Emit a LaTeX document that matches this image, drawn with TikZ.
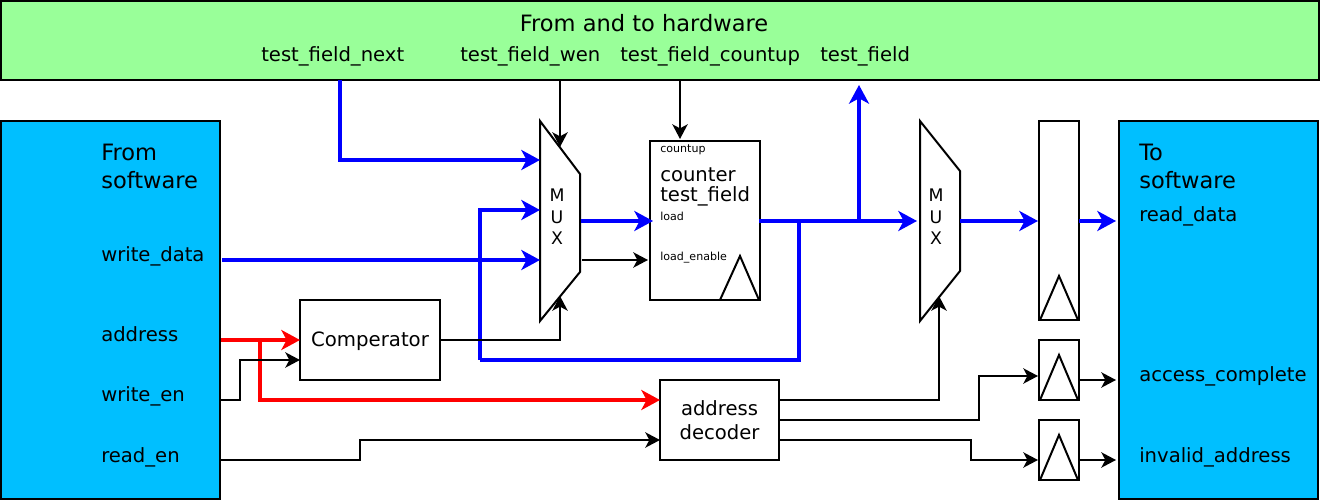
\documentclass[tikz,border=0pt]{standalone}
\usepackage{fontspec}
\setmainfont{DejaVu Sans}
\usetikzlibrary{arrows.meta}
\definecolor{hwgreen}{HTML}{99FF99}
\definecolor{swblue}{HTML}{00BFFF}
\begin{document}
\begin{tikzpicture}[
            x=0.75pt, y=-0.75pt,
            panel/.style={
                draw, line width=1.5pt, anchor=north west, inner sep=0pt, outer sep=0pt
            },
            blockbox/.style={
                draw, fill=white, line width=1.5pt, anchor=north west, inner sep=0pt, outer sep=0pt
            },
            textlabel/.style={
                anchor=base west, inner sep=0pt, font=\fontsize{14.7}{18}\selectfont
            },
            biglabel/.style={
                textlabel, font=\fontsize{16.9}{20}\selectfont
            },
            smalltext/.style={
                anchor=base west, inner sep=0pt, font=\fontsize{8.3}{10}\selectfont
            },
            muxshape/.style={
                draw, fill=white, line width=1.5pt, line join=miter
            },
            thinline/.style={
                -{Stealth[length=11pt, width=11.5pt, inset=3pt]}, line width=1.5pt
            },
            plainline/.style={
                line width=1.5pt
            },
            blueline/.style={
                -{Stealth[length=14pt, width=15pt, inset=4pt]}, blue, line width=3pt
            },
            redline/.style={
                -{Stealth[length=14pt, width=15pt, inset=4pt]}, red, line width=3pt
            }
        ]
        \useasboundingbox (0, 0) rectangle (1322, 502);

        % boxes
        \node[panel, fill=hwgreen, minimum width=1318*0.75pt, minimum height=79*0.75pt] (hw) at (1, 1) {};
        \node[panel, fill=swblue, minimum width=219*0.75pt, minimum height=378*0.75pt] (from) at (1, 121) {};
        \node[panel, fill=swblue, minimum width=199*0.75pt, minimum height=378*0.75pt] (to) at (1119, 121) {};
        \node[blockbox, minimum width=110*0.75pt, minimum height=159*0.75pt] (counter) at (650, 141) {};
        \node[blockbox, minimum width=140*0.75pt, minimum height=80*0.75pt, text depth=1pt, font=\fontsize{14.8}{18}\selectfont] (comp) at (300, 300) {Comperator};
        \node[blockbox, minimum width=119*0.75pt, minimum height=80*0.75pt, font=\fontsize{14.7}{18}\selectfont, align=center] (dec) at (660, 380) {address\\decoder};
        \node[blockbox, minimum width=40*0.75pt, minimum height=199*0.75pt] (regdata) at (1039, 121) {};
        \node[blockbox, minimum width=40*0.75pt, minimum height=60*0.75pt] (regack) at (1039, 340) {};
        \node[blockbox, minimum width=40*0.75pt, minimum height=60*0.75pt] (reginv) at (1039, 420) {};

        % clock triangles
        \draw[plainline] (720, 300) -- (740, 256) -- (759, 300);
        \draw[plainline] (1040, 320) -- (1059, 276) -- (1078, 320);
        \draw[plainline] (1040, 400) -- (1059, 355) -- (1078, 400);
        \draw[plainline] (1040, 480) -- (1059, 435) -- (1078, 480);

        % muxes
        \draw[muxshape] (540, 121) -- (580, 174) -- (580, 272) -- (540, 321) -- cycle;
        \draw[muxshape] (920, 121) -- (960, 171) -- (960, 271) -- (920, 321) -- cycle;
        \node[textlabel, anchor=center, align=center, font=\fontsize{13}{16}\selectfont] (muxa) at (557, 217) {M\\U\\X};
        \node[textlabel, anchor=center, align=center, font=\fontsize{13}{16}\selectfont] (muxb) at (936, 217) {M\\U\\X};

        % texts
        \node[biglabel, anchor=center] (hwtitle) at (644, 23) {From and to hardware};
        \node[textlabel] (hwnext) at (261, 62) {test\_field\_next};
        \node[textlabel] (hwwen) at (460, 62) {test\_field\_wen};
        \node[textlabel] (hwcnt) at (620, 62) {test\_field\_countup};
        \node[textlabel] (hwval) at (820, 62) {test\_field};
        \node[biglabel] (fromtextA) at (101, 161) {From};
        \node[biglabel] (fromtextB) at (101, 189) {software};
        \node[textlabel] (wdata) at (101, 262) {write\_data};
        \node[textlabel] (addr) at (101, 342) {address};
        \node[textlabel] (wen) at (101, 402) {write\_en};
        \node[textlabel] (ren) at (101, 462) {read\_en};
        \node[biglabel] (totextA) at (1139, 161) {To};
        \node[biglabel] (totextB) at (1139, 189) {software};
        \node[textlabel] (rdata) at (1139, 222) {read\_data};
        \node[textlabel] (ack) at (1139, 382) {access\_complete};
        \node[textlabel] (inv) at (1139, 462) {invalid\_address};
        \node[smalltext] (cup) at (660, 153) {countup};
        \node[textlabel] (cntA) at (660, 182) {counter};
        \node[textlabel] (cntB) at (660, 202) {test\_field};
        \node[smalltext] (cload) at (660, 221) {load};
        \node[smalltext] (cen) at (660, 261) {load\_enable};

        % ports
        \coordinate (hwA) at (340, 80);
        \coordinate (muxaA) at (540, 160);
        \coordinate (muxaB) at (540, 210);
        \coordinate (muxaC) at (540, 260);
        \coordinate (muxaO) at (581, 221);
        \coordinate (muxaE) at (582, 260);
        \coordinate (muxaT) at (560, 147);
        \coordinate (muxaS) at (560, 296);
        \coordinate (hwB) at (560, 81);
        \coordinate (hwC) at (680, 81);
        \coordinate (cntT) at (680, 139);
        \coordinate (cntL) at (653, 221);
        \coordinate (cntE) at (648, 260);
        \coordinate (cntO) at (759, 221);
        \coordinate (tapA) at (859, 221);
        \coordinate (tapB) at (799, 221);
        \coordinate (hwD) at (859, 85);
        \coordinate (muxbI) at (917, 221);
        \coordinate (muxbO) at (960, 221);
        \coordinate (muxbS) at (939, 296);
        \coordinate (regI) at (1038, 221);
        \coordinate (regO) at (1079, 221);
        \coordinate (toI) at (1116, 221);
        \coordinate (fromD) at (222, 260);
        \coordinate (fromA) at (221, 340);
        \coordinate (fromW) at (220, 400);
        \coordinate (fromR) at (220, 460);
        \coordinate (tapR) at (260, 340);
        \coordinate (compA) at (300, 340);
        \coordinate (compW) at (300, 360);
        \coordinate (decA) at (660, 400);
        \coordinate (decR) at (660, 440);
        \coordinate (decX) at (779, 400);
        \coordinate (decY) at (779, 420);
        \coordinate (decZ) at (779, 440);
        \coordinate (ackI) at (1038, 376);
        \coordinate (invI) at (1038, 460);
        \coordinate (ackO) at (1079, 380);
        \coordinate (invO) at (1079, 460);
        \coordinate (toAck) at (1116, 380);
        \coordinate (toInv) at (1116, 460);
        \coordinate (busS) at (480, 360);

        % buses
        \draw[blueline] (hwA) |- (muxaA);
        \draw[blueline] (fromD) -- (muxaC);
        \draw[blueline] (busS) |- (muxaB);
        \draw[blue, line width=3pt] (busS) -| (tapB);
        \draw[blueline] (muxaO) -- (cntL);
        \draw[blueline] (cntO) -- (muxbI);
        \draw[blueline] (tapA) -- (hwD);
        \draw[blueline] (muxbO) -- (regI);
        \draw[blueline] (regO) -- (toI);
        \draw[redline] (fromA) -- (compA);
        \draw[redline] (tapR) |- (decA);

        % control lines
        \draw[thinline] (hwB) -- (muxaT);
        \draw[thinline] (hwC) -- (cntT);
        \draw[thinline] (muxaE) -- (cntE);
        \draw[thinline] (comp) -| (muxaS);
        \draw[thinline] (fromW) -| (240, 360) -- (compW);
        \draw[thinline] (fromR) -| (360, 440) -- (decR);
        \draw[thinline] (decX) -| (muxbS);
        \draw[thinline] (decY) -| (979, 376) -- (ackI);
        \draw[thinline] (decZ) -| (971, 460) -- (invI);
        \draw[thinline] (ackO) -- (toAck);
        \draw[thinline] (invO) -- (toInv);
        \end{tikzpicture}
\end{document}
